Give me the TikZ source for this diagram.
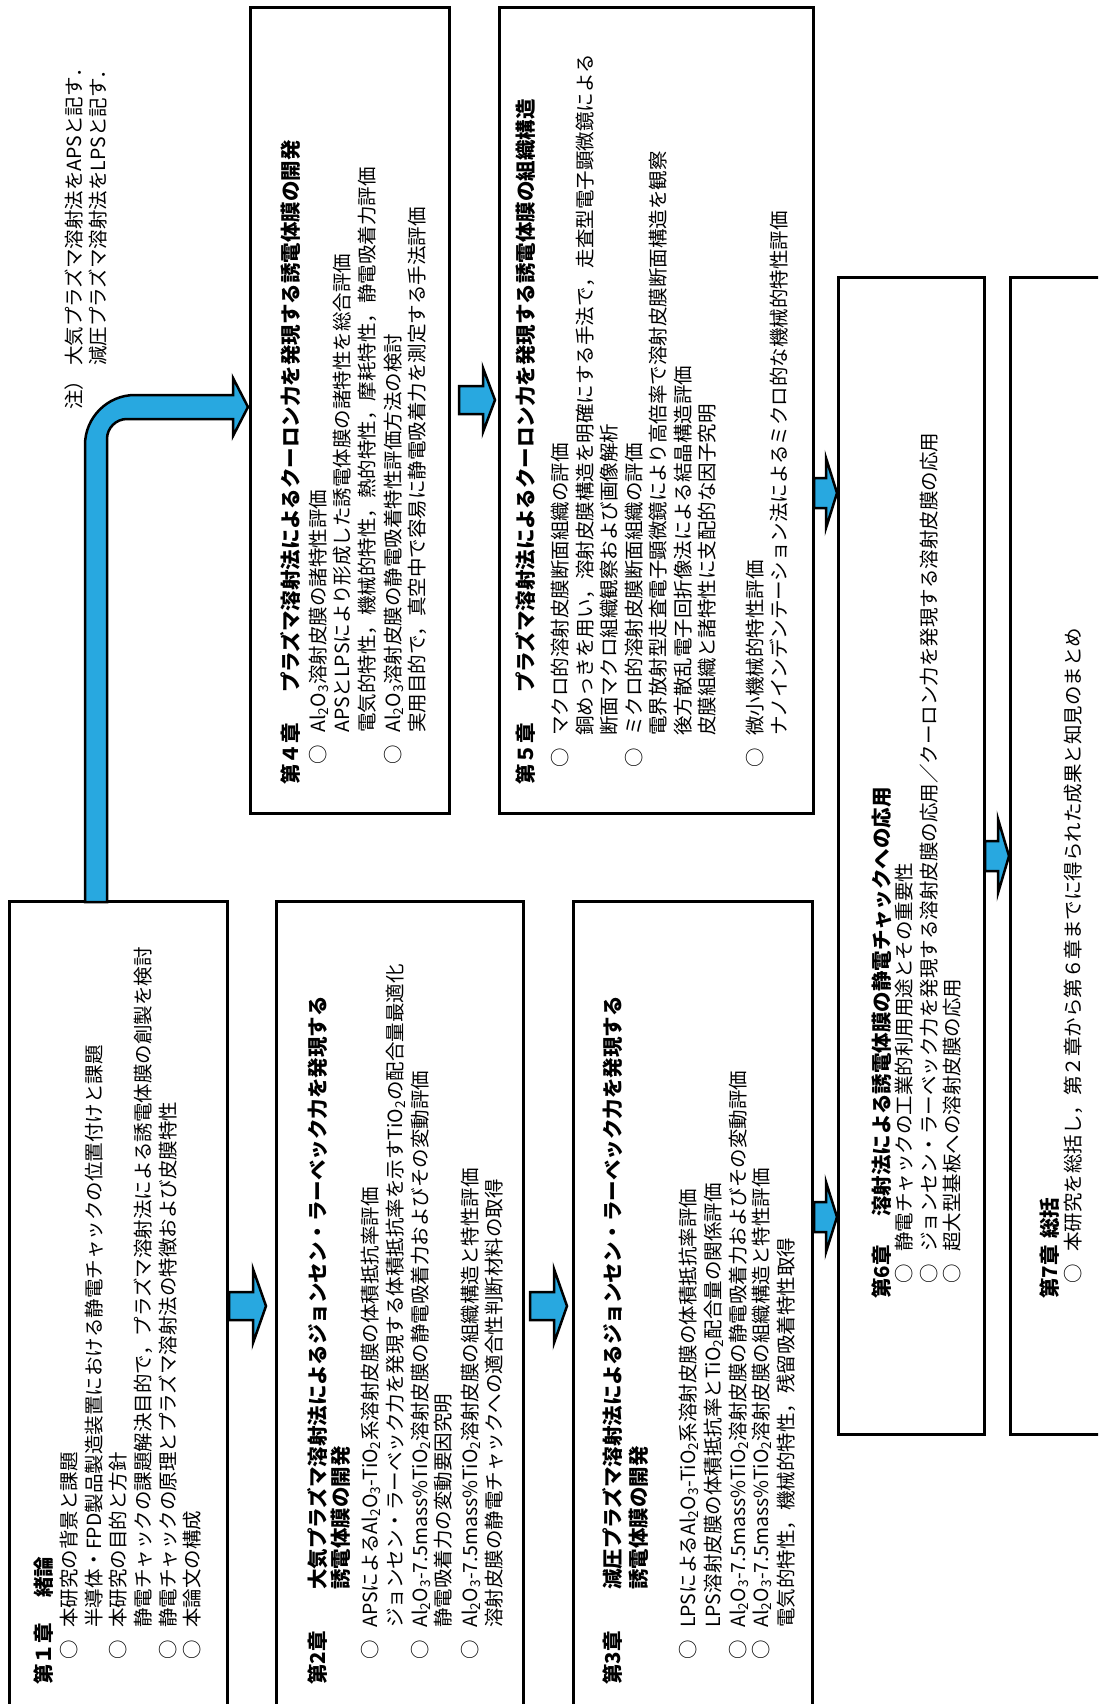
\documentclass[tikz,border=0pt]{standalone}
\usepackage{fontspec}
\setmainfont{Noto Sans CJK JP}
\definecolor{arrblue}{RGB}{40,168,224}
\newcommand\Bul{\makebox[32pt][l]{○}}
\newcommand\Ind{\hspace*{32pt}}
\newcommand\chapl[2]{\makebox[#2][l]{#1}}
\newcommand\sbs[1]{\textsubscript{#1}}
\newcommand\blkarr[6]{%
  \draw[barr] (#1,#4-#5) -- (#2,#4-#5) -- (#2,#4-#6) -- (#3,#4) -- (#2,#4+#6) -- (#2,#4+#5) -- (#1,#4+#5) -- cycle;}
\tikzset{
  box/.style={draw=black, line width=3pt},
  tx/.style={rotate=90, anchor=base west, inner sep=0pt, font=\fontsize{19.5}{24}\selectfont},
  ttl/.style={rotate=90, anchor=base west, inner sep=0pt, font=\fontsize{20.5}{25}\selectfont\bfseries},
  barr/.style={fill=arrblue, draw=black, line width=2.5pt, line join=miter},
}
\begin{document}
\begin{tikzpicture}[x=1pt,y=-1pt]
\useasboundingbox (0,0) rectangle (1098,1704);
\clip (0,0) rectangle (1098,1704);
\fill[white] (0,0) rectangle (1098,1704);

% boxes
\draw[box] (9,901) rectangle (227,1740);
\draw[box] (276,901) rectangle (523,1740);
\draw[box] (573,901) rectangle (812,1740);
\draw[box] (250,8) rectangle (449,813);
\draw[box] (499,8) rectangle (813,813);
\draw[box] (838,277) rectangle (984,1434);
\draw[box] (1010,277) rectangle (1140,1434);

% big bent arrow
\draw[barr] (85,902) -- (85,445) .. controls (85,417.4) and (107.4,395) .. (135,395)
  -- (233,395) -- (233,378) -- (248,407) -- (233,436) -- (233,419) -- (127,419)
  .. controls (115.95,419) and (107,427.95) .. (107,439) -- (107,902) -- cycle;

% small block arrows
\blkarr{229}{253}{266}{1306}{14}{37}
\blkarr{459}{483}{495}{400}{14}{32}
\blkarr{530}{554}{567}{1306}{14}{37}
\blkarr{814}{826}{837}{493}{15}{35}
\blkarr{814}{826}{837}{1217}{15}{35}
\blkarr{985}{998}{1009}{856}{15}{37}

% note
\node[tx] (nt) at (81,410) {注）};
\node[tx] (n1) at (81,366) {大気プラズマ溶射法をAPSと記す．};
\node[tx] (n2) at (105,366) {減圧プラズマ溶射法をLPSと記す．};

% box 1
\node[ttl] (t1) at (51,1685) {\chapl{第１章}{87pt}緒論};
\node[tx] (b1a) at (76,1660) {\Bul 本研究の背景と課題};
\node[tx] (b1b) at (101,1660) {\Ind 半導体・FPD製品製造装置における静電チャックの位置付けと課題};
\node[tx] (b1c) at (125,1660) {\Bul 本研究の目的と方針};
\node[tx] (b1d) at (150,1660) {\Ind 静電チャックの課題解決目的で，プラズマ溶射法による誘電体膜の創製を検討};
\node[tx] (b1e) at (175,1660) {\Bul 静電チャックの原理とプラズマ溶射法の特徴および皮膜特性};
\node[tx] (b1f) at (199,1660) {\Bul 本論文の構成};

% box 2
\node[ttl] (t2a) at (325,1685) {\chapl{第2章}{95pt}大気プラズマ溶射法によるジョンセン・ラーベック力を発現する};
\node[ttl] (t2b) at (348,1590) {誘電体膜の開発};
\node[tx] (b2a) at (377,1660) {\Bul APSによるAl\sbs{2}O\sbs{3}-TiO\sbs{2}系溶射皮膜の体積抵抗率評価};
\node[tx] (b2b) at (402,1660) {\Ind ジョンセン・ラーベック力を発現する体積抵抗率を示すTiO\sbs{2}の配合量最適化};
\node[tx] (b2c) at (427,1660) {\Bul Al\sbs{2}O\sbs{3}-7.5mass\%TiO\sbs{2}溶射皮膜の静電吸着力およびその変動評価};
\node[tx] (b2d) at (450,1660) {\Ind 静電吸着力の変動要因究明};
\node[tx] (b2e) at (477,1660) {\Bul Al\sbs{2}O\sbs{3}-7.5mass\%TiO\sbs{2}溶射皮膜の組織構造と特性評価};
\node[tx] (b2f) at (501,1660) {\Ind 溶射皮膜の静電チャックへの適合性判断材料の取得};

% box 3
\node[ttl] (t3a) at (620,1685) {\chapl{第3章}{95pt}減圧プラズマ溶射法によるジョンセン・ラーベック力を発現する};
\node[ttl] (t3b) at (646,1590) {誘電体膜の開発};
\node[tx] (b3a) at (695,1660) {\Bul LPSによるAl\sbs{2}O\sbs{3}-TiO\sbs{2}系溶射皮膜の体積抵抗率評価};
\node[tx] (b3b) at (720,1660) {\Ind LPS溶射皮膜の体積抵抗率とTiO\sbs{2}配合量の関係評価};
\node[tx] (b3c) at (745,1660) {\Bul Al\sbs{2}O\sbs{3}-7.5mass\%TiO\sbs{2}溶射皮膜の静電吸着力およびその変動評価};
\node[tx] (b3d) at (768,1660) {\Bul Al\sbs{2}O\sbs{3}-7.5mass\%TiO\sbs{2}溶射皮膜の組織構造と特性評価};
\node[tx] (b3e) at (793,1660) {\Ind 電気的特性，機械的特性，残留吸着特性取得};

% box 4
\node[ttl] (t4) at (298,785) {\chapl{第４章}{92pt}プラズマ溶射法によるクーロン力を発現する誘電体膜の開発};
\node[tx] (b4a) at (325,765) {\Bul Al\sbs{2}O\sbs{3}溶射皮膜の諸特性評価};
\node[tx] (b4b) at (349,765) {\Ind APSとLPSにより形成した誘電体膜の諸特性を総合評価};
\node[tx] (b4c) at (374,765) {\Ind 電気的特性，機械的特性，熱的特性，摩耗特性，静電吸着力評価};
\node[tx] (b4d) at (400,765) {\Bul Al\sbs{2}O\sbs{3}溶射皮膜の静電吸着特性評価方法の検討};
\node[tx] (b4e) at (424,765) {\Ind 実用目的で，真空中で容易に静電吸着力を測定する手法評価};

% box 5
\node[ttl] (t5) at (533,785) {\chapl{第５章}{92pt}プラズマ溶射法によるクーロン力を発現する誘電体膜の組織構造};
\node[tx] (b5a) at (567,768) {\Bul マクロ的溶射皮膜断面組織の評価};
\node[tx] (b5b) at (592,768) {\Ind 銅めっきを用い，溶射皮膜構造を明確にする手法で，走査型電子顕微鏡による};
\node[tx] (b5c) at (616,768) {\Ind 断面マクロ組織観察および画像解析};
\node[tx] (b5d) at (641,768) {\Bul ミクロ的溶射皮膜断面組織の評価};
\node[tx] (b5e) at (665,768) {\Ind 電界放射型走査電子顕微鏡により高倍率で溶射皮膜断面構造を観察};
\node[tx] (b5f) at (690,768) {\Ind 後方散乱電子回折像法による結晶構造評価};
\node[tx] (b5g) at (714,768) {\Ind 皮膜組織と諸特性に支配的な因子究明};
\node[tx] (b5h) at (762,768) {\Bul 微小機械的特性評価};
\node[tx] (b5i) at (786,768) {\Ind ナノインデンテーション法によるミクロ的な機械的特性評価};

% box 6
\node[ttl] (t6) at (889,1299) {\chapl{第6章}{82pt}溶射法による誘電体膜の静電チャックへの応用};
\node[tx] (b6a) at (911,1284) {\Bul 静電チャックの工業的利用用途とその重要性};
\node[tx] (b6b) at (936,1284) {\Bul ジョンセン・ラーベック力を発現する溶射皮膜の応用／クーロン力を発現する溶射皮膜の応用};
\node[tx] (b6c) at (959,1284) {\Bul 超大型基板への溶射皮膜の応用};

% box 7
\node[ttl] (t7) at (1057,1299) {\chapl{第7章}{60pt}総括};
\node[tx] (b7a) at (1080,1284) {\Bul 本研究を総括し，第２章から第６章までに得られた成果と知見のまとめ};
\end{tikzpicture}
\end{document}
